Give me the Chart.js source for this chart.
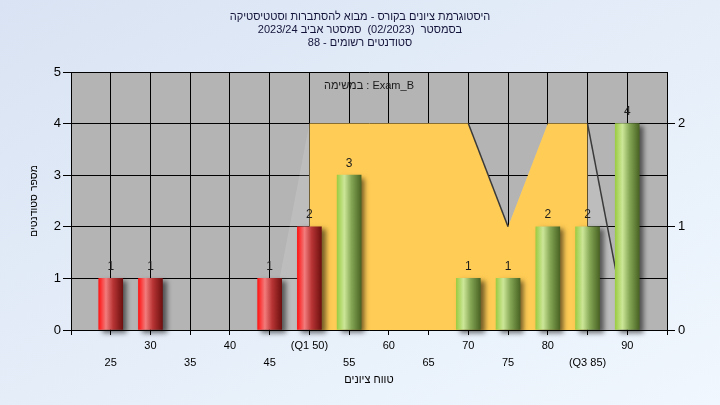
<!DOCTYPE html>
<html>
<head>
<meta charset="utf-8">
<script src="https://cdn.jsdelivr.net/npm/chart.js@4/dist/chart.umd.min.js"></script>
<style>
  html, body { margin: 0; padding: 0 }
  body {
    width: 720px; height: 405px; overflow: hidden;
    background: linear-gradient(to bottom right, #d9e3f3, #f0f7fe);
  }
</style>
</head>
<body>
<canvas id="chart" width="720" height="405"></canvas>
<script>
const titleLines = [
  'היסטוגרמת ציונים בקורס - מבוא להסתברות וסטטיסטיקה',
  'בסמסטר  (02/2023)  סמסטר אביב 2023/24',
  'סטודנטים רשומים - 88'
]
const subtitle = 'במשימה : Exam_B'
const xTitle = 'טווח ציונים'
const yTitle = 'מספר סטודנטים'

const grades = [25, 30, 45, 50, 55, 70, 75, 80, 85, 90]
const counts = [1, 1, 1, 2, 3, 1, 1, 2, 2, 4]
const q1 = 50
const q3 = 85

const curveX = [45, 50, 70, 75, 80, 85, 90]
const curveY = [0, 2, 2, 1, 2, 2, 0]

const xTickNames = { 50: '(Q1 50)', 85: '(Q3 85)' }
const rightTicks = [0, 1, 2]

const curvePoints = curveX.map((x, i) => ({ x, y: curveY[i] }))
const iqrPoints = curvePoints.filter(p => p.x >= q1 && p.x <= q3)

function barFill(ctx) {
  const chart = ctx.chart
  if (!chart.chartArea || ctx.type !== 'data') return '#cc2020'
  const x = chart.scales.x.getPixelForValue(ctx.raw.x)
  const g = chart.ctx.createLinearGradient(x - 12, 0, x + 12, 0)
  if (ctx.raw.x <= q1) {
    g.addColorStop(0, '#ff1414')
    g.addColorStop(0.3, '#f27c7c')
    g.addColorStop(0.6, '#b83434')
    g.addColorStop(1, '#6e1010')
  } else {
    g.addColorStop(0, '#9ccc44')
    g.addColorStop(0.3, '#cce698')
    g.addColorStop(0.6, '#84a654')
    g.addColorStop(1, '#4a6424')
  }
  return g
}

const plotBack = {
  id: 'plotBack',
  beforeDraw(chart) {
    const { ctx, chartArea: a } = chart
    ctx.save()
    ctx.fillStyle = '#b4b4b4'
    ctx.fillRect(a.left, a.top, a.right - a.left, a.bottom - a.top)
    ctx.restore()
  },
  afterDraw(chart) {
    const { ctx, chartArea: a } = chart
    ctx.save()
    ctx.font = '11px "Liberation Sans", Arial, sans-serif'
    ctx.textAlign = 'center'
    ctx.textBaseline = 'middle'
    ctx.fillStyle = '#14143a'
    titleLines.forEach((t, i) => ctx.fillText(t, 360, 17 + i * 13))
    ctx.fillStyle = '#1a1a1a'
    ctx.fillText(subtitle, (a.left + a.right) / 2, a.top + 14)
    ctx.restore()
  }
}

const barShadow = {
  id: 'barShadow',
  beforeDatasetDraw(chart, args) {
    if (args.meta.type !== 'bar') return
    const c = chart.ctx
    c.save()
    c.shadowColor = 'rgba(0,0,0,0.55)'
    c.shadowBlur = 5
    c.shadowOffsetX = 4
    c.shadowOffsetY = 3
  },
  afterDatasetDraw(chart, args) {
    if (args.meta.type !== 'bar') return
    chart.ctx.restore()
  }
}

const barLabels = {
  id: 'barLabels',
  afterDatasetsDraw(chart) {
    const ctx = chart.ctx
    const meta = chart.getDatasetMeta(0)
    ctx.save()
    ctx.font = '12px "Liberation Sans", Arial, sans-serif'
    ctx.textAlign = 'center'
    ctx.textBaseline = 'middle'
    ctx.fillStyle = '#1c1c1c'
    meta.data.forEach((el, i) => ctx.fillText(String(counts[i]), el.x, el.y - 12))
    ctx.restore()
  }
}

Chart.defaults.font.family = '"Liberation Sans", Arial, sans-serif'
Chart.defaults.color = '#000'

new Chart(document.getElementById('chart'), {
  type: 'bar',
  data: {
    datasets: [
      {
        type: 'bar',
        data: grades.map((g, i) => ({ x: g, y: counts[i] })),
        backgroundColor: barFill,
        barThickness: 24,
        clip: false,
        order: 0
      },
      {
        type: 'line',
        data: curvePoints,
        yAxisID: 'y2',
        pointRadius: 0,
        fill: false,
        borderWidth: 1.5,
        segment: {
          borderColor: c => c.p0.parsed.y > c.p1.parsed.y ? '#3a3a3a' : 'rgba(0,0,0,0)'
        },
        order: 1
      },
      {
        type: 'line',
        data: iqrPoints,
        yAxisID: 'y2',
        pointRadius: 0,
        borderWidth: 0,
        fill: 'origin',
        backgroundColor: '#ffcc55',
        order: 2
      },
      {
        type: 'line',
        data: curvePoints,
        yAxisID: 'y2',
        pointRadius: 0,
        borderWidth: 0,
        fill: 'origin',
        backgroundColor: 'rgba(255,255,255,0.13)',
        order: 3
      }
    ]
  },
  options: {
    responsive: false,
    animation: false,
    devicePixelRatio: 1,
    layout: { padding: { top: 72, left: 0, right: 0, bottom: 0 } },
    plugins: { legend: { display: false }, tooltip: { enabled: false } },
    scales: {
      x: {
        type: 'linear',
        min: 20,
        max: 95,
        offset: false,
        grid: { offset: false, color: '#000', tickLength: 5, tickColor: '#000' },
        border: { color: '#000' },
        ticks: {
          stepSize: 5,
          autoSkip: false,
          maxRotation: 0,
          padding: 2,
          font: { size: 11, lineHeight: 1.6 },
          callback(v) {
            if (v === 20 || v === 95) return ''
            const name = xTickNames[v] || String(v)
            return ((v - 20) / 5) % 2 ? ['', name] : name
          }
        },
        title: { display: true, text: xTitle, font: { size: 11 }, padding: { top: 0, bottom: 18 } },
        afterFit(s) { s.height = 75 }
      },
      y: {
        position: 'left',
        min: 0,
        max: 5,
        grid: { color: '#000', tickLength: 8 },
        border: { color: '#000' },
        ticks: { stepSize: 1, padding: 2, font: { size: 13 } },
        title: { display: true, text: yTitle, font: { size: 10.5 }, padding: { top: 28, bottom: 0 } },
        afterFit(s) { s.width = 71 }
      },
      y2: {
        position: 'right',
        min: 0,
        max: 2.5,
        grid: { drawOnChartArea: false, color: '#000', tickLength: 8 },
        border: { color: '#000' },
        ticks: { padding: 3, font: { size: 13 } },
        afterBuildTicks(s) { s.ticks = rightTicks.map(v => ({ value: v })) },
        afterFit(s) { s.width = 53 }
      }
    }
  },
  plugins: [plotBack, barShadow, barLabels]
})
</script>
</body>
</html>
